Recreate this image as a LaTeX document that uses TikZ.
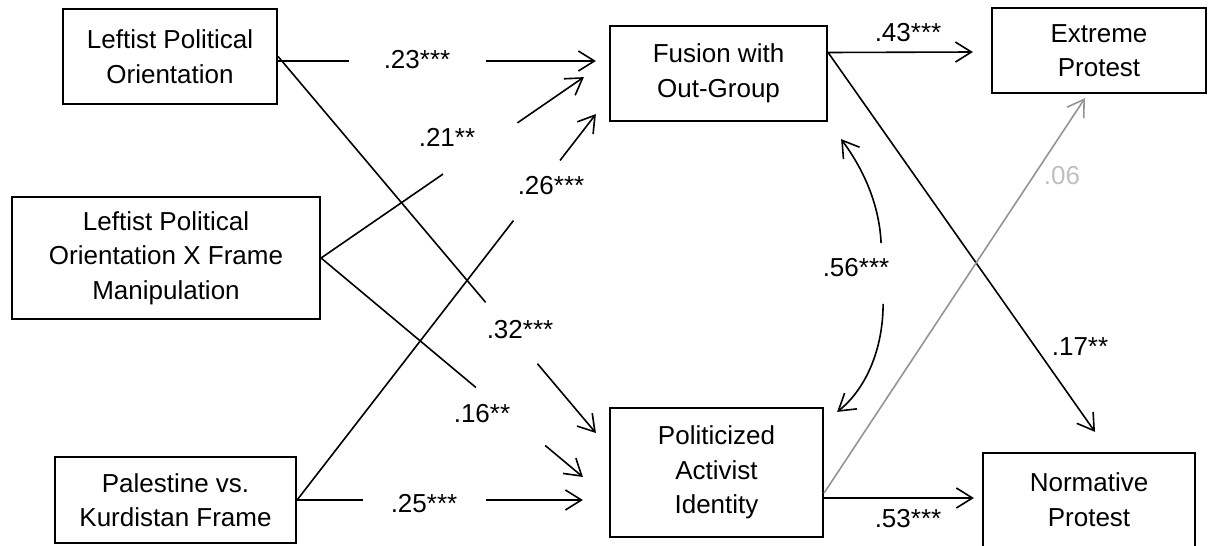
\documentclass[tikz,border=0pt]{standalone}
\usepackage{fontspec}
\setmainfont{Liberation Sans}
\usetikzlibrary{arrows.meta,calc}
\begin{document}
\begin{tikzpicture}[x=1pt,y=-1pt,
  box/.style={draw=black,line width=2.2pt,align=center,font=\fontsize{26}{34.5}\selectfont,inner sep=0pt,anchor=center},
  lbl/.style={font=\fontsize{26}{34}\selectfont,inner sep=0pt,anchor=center},
  conn/.style={line width=1.6pt},
  arr/.style={line width=1.6pt,-{Straight Barb[length=16pt,width=20pt,line width=1.6pt]}},
  grayline/.style={draw=black!42},
  graytext/.style={text=black!25},
]
\useasboundingbox (0,0) rectangle (1208,546);

% boxes
\node[box,minimum width=214pt,minimum height=95pt] (LPO) at (170,56.5) {Leftist Political\\Orientation};
\node[box,minimum width=308pt,minimum height=122pt] (LPOX) at (166,258) {Leftist Political\\Orientation X Frame\\Manipulation};
\node[box,minimum width=241pt,minimum height=86pt] (PVK) at (175.5,500) {Palestine vs.\\Kurdistan Frame};
\node[box,minimum width=217pt,minimum height=95pt] (Fus) at (718.5,73.5) {Fusion with\\Out-Group};
\node[box,minimum width=214pt,minimum height=85pt] (Ext) at (1099,50.5) {Extreme\\Protest};
\node[box,minimum width=213pt,minimum height=129pt] (PAI) at (716.5,472.5) {Politicized\\Activist\\Identity};
\node[box,minimum width=212pt,minimum height=98pt] (Norm) at (1089,502) {\raisebox{1.5pt}{\begin{tabular}{@{}c@{}}Normative\\Protest\end{tabular}}};

% connector end points
\coordinate (a1) at ($(LPO.east)+(0,4.5)$);
\coordinate (b1) at ($(Fus.west)+(-13,-12.5)$);
\coordinate (b2) at ($(Fus.south west)+(-25,-45)$);
\coordinate (b3) at ($(Fus.south west)+(-13,-8)$);
\coordinate (b4) at ($(PAI.west)+(-13,-39.5)$);
\coordinate (b5) at ($(PAI.west)+(-26,4.5)$);
\coordinate (b6) at ($(PAI.west)+(-26,27.5)$);
\coordinate (f0) at ($(Fus.east)+(0,-21)$);
\coordinate (b7) at ($(Ext.west)+(-18,1.5)$);
\coordinate (b8) at ($(Norm.north)+(6,-20)$);
\coordinate (p0) at ($(PAI.east)+(0,25.5)$);
\coordinate (b9) at ($(Norm.west)+(-8,-4)$);
\coordinate (g0) at ($(PAI.east)+(0,20.5)$);
\coordinate (b10) at ($(Ext.south)+(-14,4)$);
\coordinate (cu) at ($(Fus.south east)+(13,17)$);
\coordinate (cl) at ($(PAI.north east)+(13,5)$);

% LPO -> Fusion
\draw[conn] (a1) -- ($(a1)!0.222!(b1)$);
\draw[arr] ($(a1)!0.653!(b1)$) -- (b1);
% LPOX -> Fusion
\draw[conn] (LPOX.east) -- ($(LPOX.east)!0.464!(b2)$);
\draw[arr] ($(LPOX.east)!0.747!(b2)$) -- (b2);
% PVK -> Fusion
\draw[conn] (PVK.east) -- ($(PVK.east)!0.724!(b3)$);
\draw[arr] ($(PVK.east)!0.880!(b3)$) -- (b3);
% LPO -> PAI
\draw[conn] (LPO.east) -- ($(LPO.east)!0.653!(b4)$);
\draw[arr] ($(LPO.east)!0.816!(b4)$) -- (b4);
% LPOX -> PAI
\draw[conn] (LPOX.east) -- ($(LPOX.east)!0.591!(b5)$);
\draw[arr] ($(LPOX.east)!0.856!(b5)$) -- (b5);
% PVK -> PAI
\draw[conn] (PVK.east) -- ($(PVK.east)!0.229!(b6)$);
\draw[arr] ($(PVK.east)!0.66!(b6)$) -- (b6);
% Fusion -> Extreme
\draw[arr] (f0) -- (b7);
% Fusion -> Normative
\draw[arr] (f0) -- (b8);
% PAI -> Normative
\draw[arr] (p0) -- (b9);
% PAI -> Extreme (gray)
\draw[arr,grayline] (g0) -- (b10);
% correlation Fusion <-> PAI
\draw[arr] ($(cu)+(40,104)$) .. controls ($(cu)+(38,62)$) and ($(cu)+(20,27)$) .. (cu);
\draw[arr] ($(cl)+(46,-108)$) .. controls ($(cl)+(46,-63)$) and ($(cl)+(29,-23)$) .. (cl);

% labels
\node[lbl] (l1) at (417,60) {.23***};
\node[lbl] (l2) at (447,137) {.21**};
\node[lbl] (l3) at (551,186) {.26***};
\node[lbl] (l4) at (520,330) {.32***};
\node[lbl] (l5) at (482,414) {.16**};
\node[lbl] (l6) at (424,504) {.25***};
\node[lbl] (l7) at (908,33) {.43***};
\node[lbl] (l8) at (856,268) {.56***};
\node[lbl,graytext] (l9) at (1062,176) {.06};
\node[lbl] (l10) at (1080,347) {.17**};
\node[lbl] (l11) at (908,519) {.53***};
\end{tikzpicture}
\end{document}
